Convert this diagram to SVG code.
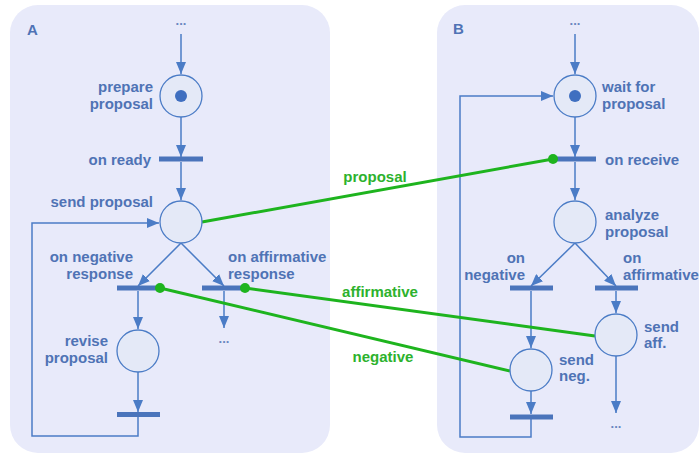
<svg xmlns="http://www.w3.org/2000/svg" width="700" height="456" viewBox="0 0 700 456">
<style>
.panel{fill:#e8eafa;stroke:none}
.arc{fill:none;stroke:#4b7cc6;stroke-width:1.5}
.place{fill:#e4e9f7;stroke:#4b7cc6;stroke-width:1.3}
.token{fill:#3f6fc0}
.trans{fill:#4a74bb}
.lbl{font-family:"Liberation Sans",Arial,sans-serif;font-weight:bold;font-size:15px;fill:#4f73b5}
.end{text-anchor:end}
.mid{text-anchor:middle}
.dots{font-family:"Liberation Sans",Arial,sans-serif;font-weight:bold;font-size:13px;fill:#6a86c0;text-anchor:middle}
.msg{fill:none;stroke:#1eb41e;stroke-width:3}
.mdot{fill:#1eb41e}
.mlbl{font-family:"Liberation Sans",Arial,sans-serif;font-weight:bold;font-size:15px;fill:#2db22d;text-anchor:middle}
</style>
<defs>
<marker id="ah" viewBox="0 0 12 10" refX="12" refY="5" markerWidth="12" markerHeight="10" markerUnits="userSpaceOnUse" orient="auto">
<path d="M0,0L12,5L0,10z" fill="#4b7cc6"/>
</marker>
</defs>
<rect class="panel" x="10" y="5" width="320" height="448" rx="28"/>
<rect class="panel" x="437" y="5" width="262" height="448" rx="28"/>
<text class="lbl" x="27" y="35">A</text>
<text class="lbl" x="453" y="34">B</text>

<g id="connectors">
<line class="arc" x1="181" y1="34" x2="181" y2="74" marker-end="url(#ah)"/>
<line class="arc" x1="181" y1="117" x2="181" y2="157" marker-end="url(#ah)"/>
<line class="arc" x1="181" y1="162" x2="181" y2="200" marker-end="url(#ah)"/>
<line class="arc" x1="181" y1="243" x2="138" y2="286" marker-end="url(#ah)"/>
<line class="arc" x1="181" y1="243" x2="224" y2="286" marker-end="url(#ah)"/>
<line class="arc" x1="138" y1="291" x2="138" y2="329" marker-end="url(#ah)"/>
<line class="arc" x1="138" y1="372" x2="138" y2="412" marker-end="url(#ah)"/>
<path class="arc" d="M138,417V436H32V223H159" marker-end="url(#ah)"/>
<line class="arc" x1="224" y1="291" x2="224" y2="328" marker-end="url(#ah)"/>

<line class="arc" x1="575" y1="34" x2="575" y2="74" marker-end="url(#ah)"/>
<line class="arc" x1="575" y1="117" x2="575" y2="157" marker-end="url(#ah)"/>
<line class="arc" x1="575" y1="162" x2="575" y2="200" marker-end="url(#ah)"/>
<line class="arc" x1="575" y1="243" x2="531" y2="286" marker-end="url(#ah)"/>
<line class="arc" x1="575" y1="243" x2="616" y2="286" marker-end="url(#ah)"/>
<line class="arc" x1="531" y1="291" x2="531" y2="348" marker-end="url(#ah)"/>
<line class="arc" x1="531" y1="391" x2="531" y2="414" marker-end="url(#ah)"/>
<path class="arc" d="M531,419V437H460V96H553" marker-end="url(#ah)"/>
<line class="arc" x1="616" y1="291" x2="616" y2="313" marker-end="url(#ah)"/>
<line class="arc" x1="616" y1="356" x2="616" y2="413" marker-end="url(#ah)"/>

<line class="msg" x1="202" y1="222" x2="553" y2="159"/>
<line class="msg" x1="245" y1="288" x2="595" y2="336"/>
<line class="msg" x1="160" y1="288" x2="510" y2="371"/>
<text class="mlbl" x="375" y="182">proposal</text>
<text class="mlbl" x="380" y="297">affirmative</text>
<text class="mlbl" x="383" y="362">negative</text>
</g>

<text class="dots" x="181" y="25">...</text>
<text class="dots" x="224" y="343">...</text>
<text class="dots" x="575" y="25">...</text>
<text class="dots" x="616" y="428">...</text>

<g id="prepare-proposal">
<circle class="place" cx="181" cy="96" r="21"/>
<circle class="token" cx="181" cy="96" r="6"/>
<text class="lbl end" x="153" y="92">prepare</text>
<text class="lbl end" x="153" y="109">proposal</text>
</g>
<g id="on-ready">
<rect class="trans" x="159" y="156.5" width="44" height="5"/>
<text class="lbl end" x="151" y="165">on ready</text>
</g>
<g id="send-proposal">
<circle class="place" cx="181" cy="222" r="21"/>
<text class="lbl end" x="153" y="207">send proposal</text>
</g>
<g id="on-negative-response">
<rect class="trans" x="117" y="285.5" width="43" height="5"/>
<circle class="mdot" cx="160" cy="288" r="5"/>
<text class="lbl end" x="133" y="262">on negative</text>
<text class="lbl end" x="133" y="279">response</text>
</g>
<g id="on-affirmative-response">
<rect class="trans" x="202" y="285.5" width="43" height="5"/>
<circle class="mdot" cx="245" cy="288" r="5"/>
<text class="lbl" x="228" y="262">on affirmative</text>
<text class="lbl" x="228" y="279">response</text>
</g>
<g id="revise-proposal">
<circle class="place" cx="138" cy="351" r="21"/>
<text class="lbl end" x="108" y="346">revise</text>
<text class="lbl end" x="108" y="363">proposal</text>
</g>
<g id="revise-done">
<rect class="trans" x="117" y="412" width="43" height="5"/>
</g>

<g id="wait-for-proposal">
<circle class="place" cx="575" cy="96" r="21"/>
<circle class="token" cx="575" cy="96" r="6"/>
<text class="lbl" x="602" y="92">wait for</text>
<text class="lbl" x="602" y="109">proposal</text>
</g>
<g id="on-receive">
<rect class="trans" x="553" y="156.5" width="43" height="5"/>
<circle class="mdot" cx="553" cy="159" r="5"/>
<text class="lbl" x="605" y="165">on receive</text>
</g>
<g id="analyze-proposal">
<circle class="place" cx="575" cy="222" r="21"/>
<text class="lbl" x="605" y="220">analyze</text>
<text class="lbl" x="605" y="237">proposal</text>
</g>
<g id="on-negative">
<rect class="trans" x="510" y="285.5" width="43" height="5"/>
<text class="lbl end" x="525" y="263">on</text>
<text class="lbl end" x="525" y="280">negative</text>
</g>
<g id="on-affirmative">
<rect class="trans" x="595" y="285.5" width="43" height="5"/>
<text class="lbl" x="623" y="263">on</text>
<text class="lbl" x="623" y="280">affirmative</text>
</g>
<g id="send-neg">
<circle class="place" cx="531" cy="370" r="21"/>
<text class="lbl" x="559" y="365">send</text>
<text class="lbl" x="559" y="381">neg.</text>
</g>
<g id="send-neg-done">
<rect class="trans" x="510" y="414.5" width="43" height="5"/>
</g>
<g id="send-aff">
<circle class="place" cx="616" cy="335" r="21"/>
<text class="lbl" x="644" y="332">send</text>
<text class="lbl" x="644" y="348">aff.</text>
</g>
</svg>
